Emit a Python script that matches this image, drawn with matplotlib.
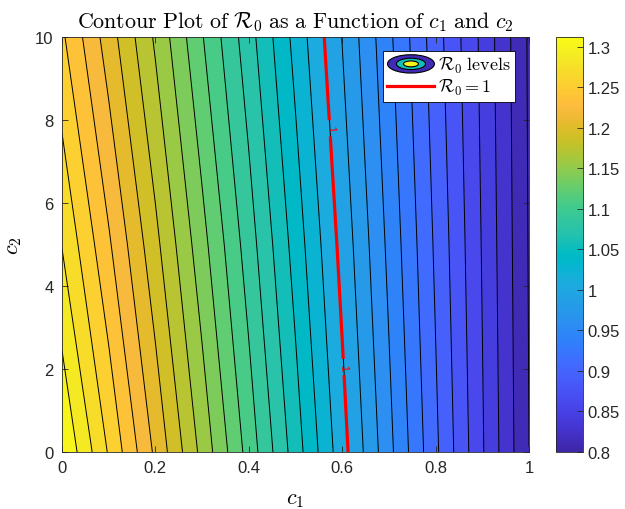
import numpy as np
import matplotlib
matplotlib.use("Agg")
import matplotlib.pyplot as plt
from matplotlib.colors import LinearSegmentedColormap, Normalize
from matplotlib.cm import ScalarMappable
from matplotlib.patches import Ellipse, Patch
from matplotlib.lines import Line2D
from matplotlib.legend_handler import HandlerBase

# Datos: R0 en una malla de c1 x c2
c1_vals = [0.0, 0.1, 0.2, 0.3, 0.4, 0.5, 0.6, 0.7, 0.8, 0.9, 1.0]
c2_vals = [0.0, 5.0, 10.0]
r0_c2_0 = [1.3120, 1.2611, 1.2101, 1.1592, 1.1083, 1.0574, 1.0064, 0.9555, 0.9046, 0.8536, 0.8027]
r0_c2_5 = [1.2785, 1.2323, 1.1852, 1.1372, 1.0900, 1.0422, 0.9946, 0.9466, 0.8985, 0.8508, 0.8015]
r0_c2_10 = [1.2491, 1.2052, 1.1615, 1.1160, 1.0723, 1.0273, 0.9829, 0.9379, 0.8924, 0.8480, 0.8005]

r0_max = 1.312
level_step = 0.01643
x_ticks = [0, 0.2, 0.4, 0.6, 0.8, 1.0]
y_ticks = [0, 2, 4, 6, 8, 10]
cbar_ticks = [0.8, 0.85, 0.9, 0.95, 1.0, 1.05, 1.1, 1.15, 1.2, 1.25, 1.3]

# Mapa de color parula (MATLAB)
parula_rgb = [
    (0.2422, 0.1504, 0.6603), (0.2504, 0.1650, 0.7076), (0.2578, 0.1818, 0.7511),
    (0.2647, 0.1978, 0.7952), (0.2706, 0.2147, 0.8364), (0.2751, 0.2342, 0.8710),
    (0.2783, 0.2559, 0.8991), (0.2803, 0.2782, 0.9221), (0.2813, 0.3006, 0.9414),
    (0.2810, 0.3228, 0.9579), (0.2795, 0.3447, 0.9717), (0.2760, 0.3667, 0.9829),
    (0.2699, 0.3892, 0.9906), (0.2602, 0.4123, 0.9952), (0.2440, 0.4358, 0.9988),
    (0.2206, 0.4603, 0.9973), (0.1963, 0.4847, 0.9892), (0.1834, 0.5074, 0.9798),
    (0.1786, 0.5289, 0.9682), (0.1764, 0.5499, 0.9520), (0.1687, 0.5703, 0.9359),
    (0.1540, 0.5902, 0.9218), (0.1460, 0.6091, 0.9079), (0.1380, 0.6276, 0.8973),
    (0.1248, 0.6459, 0.8883), (0.1113, 0.6635, 0.8763), (0.0952, 0.6798, 0.8598),
    (0.0689, 0.6948, 0.8394), (0.0297, 0.7082, 0.8163), (0.0036, 0.7203, 0.7917),
    (0.0067, 0.7312, 0.7660), (0.0433, 0.7411, 0.7394), (0.0964, 0.7500, 0.7120),
    (0.1408, 0.7584, 0.6842), (0.1717, 0.7670, 0.6554), (0.1938, 0.7758, 0.6251),
    (0.2161, 0.7843, 0.5923), (0.2470, 0.7918, 0.5567), (0.2906, 0.7973, 0.5188),
    (0.3406, 0.8008, 0.4789), (0.3909, 0.8029, 0.4354), (0.4456, 0.8024, 0.3909),
    (0.5044, 0.7993, 0.3480), (0.5616, 0.7942, 0.3045), (0.6174, 0.7876, 0.2612),
    (0.6720, 0.7793, 0.2227), (0.7242, 0.7698, 0.1910), (0.7738, 0.7598, 0.1646),
    (0.8203, 0.7498, 0.1535), (0.8634, 0.7406, 0.1596), (0.9035, 0.7330, 0.1774),
    (0.9393, 0.7288, 0.2100), (0.9728, 0.7298, 0.2394), (0.9956, 0.7434, 0.2371),
    (0.9970, 0.7659, 0.2199), (0.9952, 0.7893, 0.2028), (0.9892, 0.8136, 0.1885),
    (0.9786, 0.8386, 0.1766), (0.9676, 0.8639, 0.1643), (0.9610, 0.8890, 0.1537),
    (0.9597, 0.9135, 0.1423), (0.9628, 0.9373, 0.1265), (0.9691, 0.9606, 0.1064),
    (0.9769, 0.9839, 0.0805),
]
parula = LinearSegmentedColormap.from_list("parula", parula_rgb, N=256)


class ContourIconHandler(HandlerBase):
    # icono de elipses concentricas como el de MATLAB
    def create_artists(self, legend, orig_handle, xdescent, ydescent,
                       width, height, fontsize, trans):
        cx = width / 2 - xdescent
        cy = height / 2 - ydescent
        arts = []
        for frac, val in [(1.0, 0.02), (0.62, 0.5), (0.32, 0.98)]:
            e = Ellipse((cx, cy), width * frac, height * 1.45 * frac,
                        facecolor=parula(val), edgecolor="k", lw=0.8,
                        transform=trans)
            arts.append(e)
        return arts


plt.rcParams["mathtext.fontset"] = "cm"
plt.rcParams["font.family"] = ["Liberation Sans", "DejaVu Sans"]

C1, C2 = np.meshgrid(c1_vals, c2_vals)
R0 = np.array([r0_c2_0, r0_c2_5, r0_c2_10])

levels = r0_max - level_step * np.arange(32, -1, -1)
levels[-1] += 1e-6
norm = Normalize(vmin=R0.min(), vmax=R0.max())

fig = plt.figure(figsize=(6.25, 5.1), dpi=100)
ax = fig.add_axes([62 / 625, 57 / 510, 467 / 625, 415 / 510])
cax = fig.add_axes([556 / 625, 57 / 510, 27 / 625, 415 / 510])

ax.contourf(C1, C2, R0, levels=levels, cmap=parula, norm=norm)
ax.contour(C1, C2, R0, levels=levels[1:-1], colors="k", linewidths=0.7)
cs1 = ax.contour(C1, C2, R0, levels=[1.0], colors="red", linewidths=2.3)
ax.clabel(cs1, fmt="%g", fontsize=8, colors="red", inline=True,
          manual=[(0.575, 7.8), (0.605, 2.05)])

ax.set_xlim(0, 1)
ax.set_ylim(0, 10)
ax.set_xticks(x_ticks)
ax.set_xticklabels(["%g" % t for t in x_ticks])
ax.set_yticks(y_ticks)
ax.tick_params(direction="in", top=True, right=True, labelsize=12,
               length=4, width=0.6, colors="0.15", labelcolor="0.15", pad=6)
for sp in ax.spines.values():
    sp.set_color("0.15")
    sp.set_linewidth(0.6)

ax.set_title(r"$\mathrm{Contour\ Plot\ of\ }\mathcal{R}_0\mathrm{\ as\ a\ Function\ of\ }c_1\mathrm{\ and\ }c_2$",
             fontsize=15.8, pad=7)
ax.set_xlabel(r"$c_1$", fontsize=16, labelpad=9)
ax.set_ylabel(r"$c_2$", fontsize=16, labelpad=8)

# Leyenda
proxy = Patch()
red_line = Line2D([], [], color="red", lw=2.3)
leg = ax.legend([proxy, red_line],
                [r"$\mathcal{R}_0\ \mathrm{levels}$", r"$\mathcal{R}_0 = 1$"],
                handler_map={proxy: ContourIconHandler()},
                loc="upper right", bbox_to_anchor=(0.971, 0.967), borderaxespad=0,
                fontsize=13, handlelength=2.6, handletextpad=0.2, borderpad=0.25,
                labelspacing=0.1, fancybox=False, framealpha=1)
leg.get_frame().set_edgecolor("k")
leg.get_frame().set_linewidth(0.6)

# Barra de color continua
cb = fig.colorbar(ScalarMappable(norm=norm, cmap=parula), cax=cax)
cb.set_ticks(cbar_ticks)
cb.set_ticklabels(["%g" % t for t in cbar_ticks])
cb.ax.tick_params(direction="in", labelsize=12, length=4, width=0.6,
                  colors="0.15", labelcolor="0.15")
cb.outline.set_edgecolor("0.15")
cb.outline.set_linewidth(0.6)

fig.savefig("out.png", dpi=100)
plt.close(fig)
